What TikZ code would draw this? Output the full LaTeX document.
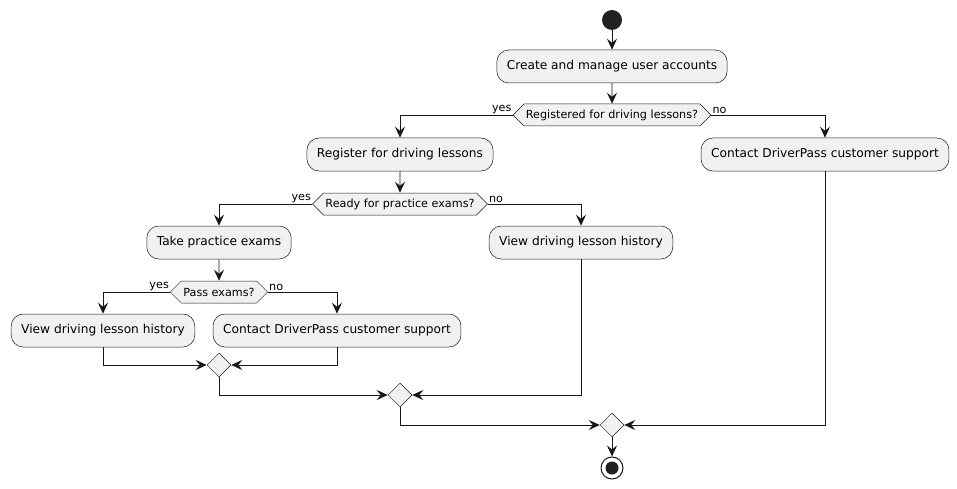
\documentclass[tikz,border=0pt]{standalone}
\usepackage{fontspec}
\setmainfont{DejaVu Sans}
\usetikzlibrary{arrows.meta,shapes.geometric,shapes.symbols}
\definecolor{umlfill}{HTML}{F1F1F1}
\definecolor{umlline}{HTML}{181818}
\definecolor{umldot}{HTML}{222222}

\begin{document}
\begin{tikzpicture}[x=1pt,y=-1pt,
  every path/.style={>={Stealth[length=11pt,width=10pt,inset=4pt]}},
  act/.style={draw=umlline,line width=0.5pt,fill=umlfill,rectangle,rounded corners=12pt,minimum height=33pt,inner xsep=10pt,font=\fontsize{12.2}{14}\selectfont},
  test/.style={draw=umlline,line width=0.5pt,fill=umlfill,signal,signal to=east and west,signal pointer angle=90,minimum height=22pt,inner xsep=2pt,inner ysep=0pt,font=\fontsize{11.2}{13}\selectfont},
  merge/.style={draw=umlline,line width=0.5pt,fill=umlfill,diamond,minimum size=24pt,inner sep=0pt},
  flow/.style={->,draw=umlline,line width=0.9pt},
  tag/.style={inner sep=1pt,font=\fontsize{11.2}{13}\selectfont}]
\useasboundingbox (0,0) rectangle (957,489);
\node[circle,fill=umldot,minimum size=20pt,inner sep=0pt] (start) at (612,20) {};
\node[act]  (a0) at (612,66.5)  {Create and manage user accounts};
\node[test] (q0) at (612,115)   {Registered for driving lessons?};
\node[act]  (a1) at (400,154.5) {Register for driving lessons};
\node[act]  (a2) at (825,154.5) {Contact DriverPass customer support};
\node[test] (q1) at (400,204)   {Ready for practice exams?};
\node[act]  (a3) at (219,242.5) {Take practice exams};
\node[act]  (a4) at (581,242.5) {View driving lesson history};
\node[test] (q2) at (219,292)   {Pass exams?};
\node[act]  (a5) at (103,330.5) {View driving lesson history};
\node[act]  (a6) at (337,330.5) {Contact DriverPass customer support};
\node[merge] (m0) at (219,365) {};
\node[merge] (m1) at (400,395) {};
\node[merge] (m2) at (612,425) {};
\node[circle,draw=umlline,line width=1pt,fill=white,minimum size=22pt,inner sep=0pt,
  path picture={\fill[umldot] (path picture bounding box.center) circle (6.5pt);}] (stop) at (612,468) {};
% labels on the branches
\node[tag,anchor=south east] (y0) at (q0.west) {yes};
\node[tag,anchor=south west] (n0) at (q0.east) {no};
\node[tag,anchor=south east] (y1) at (q1.west) {yes};
\node[tag,anchor=south west] (n1) at (q1.east) {no};
\node[tag,anchor=south east] (y2) at (q2.west) {yes};
\node[tag,anchor=south west] (n2) at (q2.east) {no};
\draw[flow] (start) -- (a0);
\draw[flow] (a0) -- (q0);
\draw[flow] (q0.west) -| (a1);
\draw[flow] (q0.east) -| (a2);
\draw[flow] (a1) -- (q1);
\draw[flow] (q1.west) -| (a3);
\draw[flow] (q1.east) -| (a4);
\draw[flow] (a3) -- (q2);
\draw[flow] (q2.west) -| (a5);
\draw[flow] (q2.east) -| (a6);
\draw[flow] (a5) |- (m0);
\draw[flow] (a6) |- (m0);
\draw[flow] (m0) |- (m1);
\draw[flow] (a4) |- (m1);
\draw[flow] (m1) |- (m2);
\draw[flow] (a2) |- (m2);
\draw[flow] (m2) -- (stop);
\end{tikzpicture}
\end{document}
